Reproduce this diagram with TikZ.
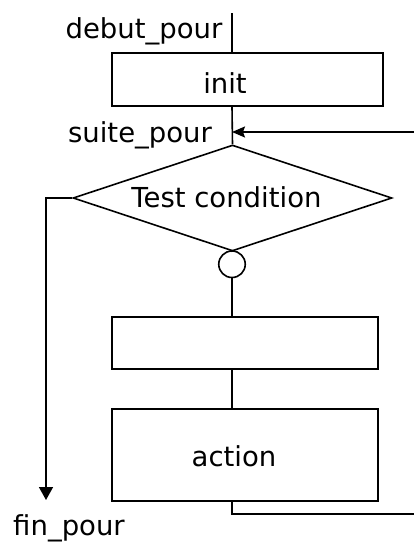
\documentclass[tikz,border=0pt]{standalone}
\usepackage{fontspec}
\setmainfont{DejaVu Sans}
\usetikzlibrary{shapes.geometric,arrows.meta}
\begin{document}
\begin{tikzpicture}[x=1pt,y=-1pt,
  every node/.style={font=\fontsize{27.5}{32}\selectfont},
  ln/.style={line width=1.6pt},
  box/.style={draw,line width=1.6pt,rectangle,inner sep=0pt},
  txt/.style={anchor=base,inner sep=0pt}]
\useasboundingbox (0,0) rectangle (414,544);
% boxes
\node[box,minimum width=271pt,minimum height=53pt] (init) at (247.5,79.5) {};
\node[diamond,draw,line width=1.6pt,inner sep=0pt,minimum width=319pt,minimum height=106pt] (test) at (232.5,198) {};
\node[circle,draw,line width=1.6pt,inner sep=0pt,minimum size=26.5pt] (circ) at (232,264.25) {};
\node[box,minimum width=266pt,minimum height=52pt] (blank) at (245,343) {};
\node[box,minimum width=266pt,minimum height=92pt] (act) at (245,455) {};
% texts
\node[txt] (tdeb) at (144,38) {debut\_pour};
\node[txt] (tinit) at (225,93) {init};
\node[txt] (tsuite) at (140,142) {suite\_pour};
\node[txt] (ttest) at (226.5,207) {Test condition};
\node[txt] (tact) at (234,466) {action};
\node[txt] (tfin) at (69,535) {fin\_pour};
% coordinates
\coordinate (top) at (232,13);
\coordinate (loopin) at (414,132);
\coordinate (loopat) at (232,132);
\coordinate (corner1) at (46,198);
\coordinate (finend) at (46,500);
\coordinate (corner2) at (232,514);
\coordinate (loopout) at (414,514);
% connectors
\draw[ln] (top) -- (top |- init.north);
\draw[ln] (init.south -| top) -- (test.north);
\draw[ln,-{Stealth[length=13pt,width=11pt,inset=2pt]}] (loopin) -- (loopat);
\draw[ln] (test.south) -- (circ.north);
\draw[ln] (circ.south) -- (circ.south |- blank.north);
\draw[ln] (blank.south -| circ.south) -- (act.north -| circ.south);
\draw[ln] (act.south -| circ.south) -- (corner2) -- (loopout);
\draw[ln,-{Triangle[length=13pt,width=14pt]}] (test.west) -- (corner1) -- (finend);
\end{tikzpicture}
\end{document}
